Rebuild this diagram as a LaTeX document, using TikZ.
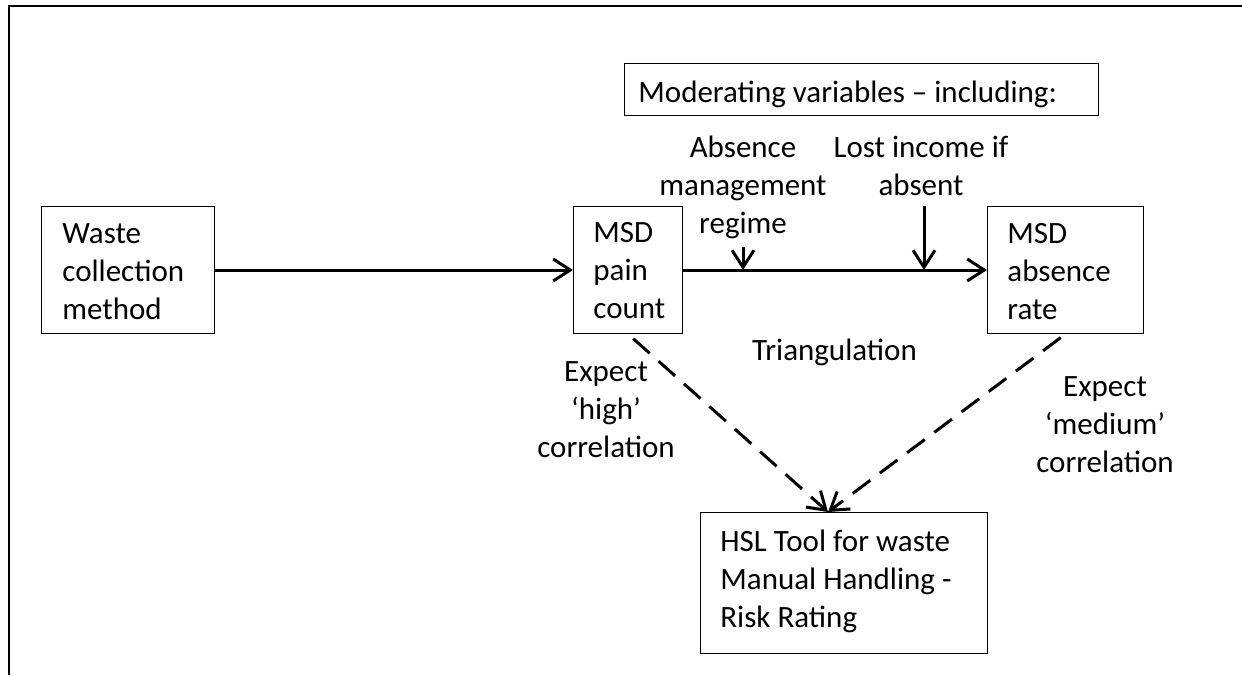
\documentclass[tikz,border=0pt]{standalone}
\usepackage{fontspec}
\setmainfont{Carlito}
\usetikzlibrary{arrows.meta}
\newcommand{\diagfont}{\fontsize{15.5}{19}\selectfont}

\begin{document}
\begin{tikzpicture}[x=0.5pt,y=-0.5pt,
		box/.style={draw,line width=0.5pt,anchor=north west,inner sep=0pt},
		txt/.style={inner sep=0pt,font=\diagfont,execute at begin node=\strut},
		arr/.style={line width=1.5pt,-{Straight Barb[length=8.5pt,width=11pt]}},
		dasharr/.style={arr,dash pattern=on 11pt off 6pt}]
		\useasboundingbox (0,0) rectangle (1242,675);
		% frame
		\draw[line width=1.2pt] (8,6) -- (1242,6);
		\draw[line width=1.2pt] (9,6) -- (9,675);
		% boxes
		\node[box,minimum width=86.5pt,minimum height=63.5pt] (waste) at (41,206) {};
		\node[box,minimum width=54.5pt,minimum height=63.5pt] (pain) at (573,206) {};
		\node[box,minimum width=78pt,minimum height=63.5pt] (absence) at (987,206) {};
		\node[box,minimum width=237pt,minimum height=26pt] (moderating) at (624,63) {};
		\node[box,minimum width=143.5pt,minimum height=70.5pt] (hsl) at (700,512) {};
		% box texts
		\node[txt,anchor=north west,align=left] (wastetext) at (62,223.4) {Waste\\collection\\method};
		\node[txt,anchor=north west,align=left] (paintext) at (593,222.4) {MSD\\pain\\count};
		\node[txt,anchor=north west,align=left] (absencetext) at (1007,223) {MSD\\absence\\rate};
		\node[txt,anchor=north west] (moderatingtext) at (638,75.4) {Moderating variables -- including:};
		\node[txt,anchor=north west,align=left] (hsltext) at (720,529.4) {HSL Tool for waste\\Manual Handling -\\Risk Rating};
		% labels
		\node[txt,anchor=north,align=center] (regimelbl) at (743,136) {Absence\\management\\regime};
		\node[txt,anchor=north,align=center] (incomelbl) at (921,135.5) {Lost income if\\absent};
		\node[txt,anchor=north] (triangulation) at (834.5,333.4) {Triangulation};
		\node[txt,anchor=north,align=center] (highlbl) at (606,361) {Expect\\‘high’\\correlation};
		\node[txt,anchor=north,align=center] (mediumlbl) at (1105,376) {Expect\\‘medium’\\correlation};
		% connectors
		\coordinate (regimefrom) at (743,247);
		\coordinate (regimeto) at (743,270);
		\coordinate (incomefrom) at (924,206);
		\coordinate (incometo) at (924,270);
		\coordinate (hsltip) at (828,512);
		\draw[arr] (waste.east) -- (pain.west);
		\draw[arr] (pain.east) -- (absence.west);
		\draw[arr] (regimefrom) -- (regimeto);
		\draw[arr] (incomefrom) -- (incometo);
		\draw[dasharr,shorten <=3.5pt] (pain.south) -- (hsltip);
		\draw[dasharr,shorten <=3pt] (absence.south) -- (hsltip);
\end{tikzpicture}
\end{document}
